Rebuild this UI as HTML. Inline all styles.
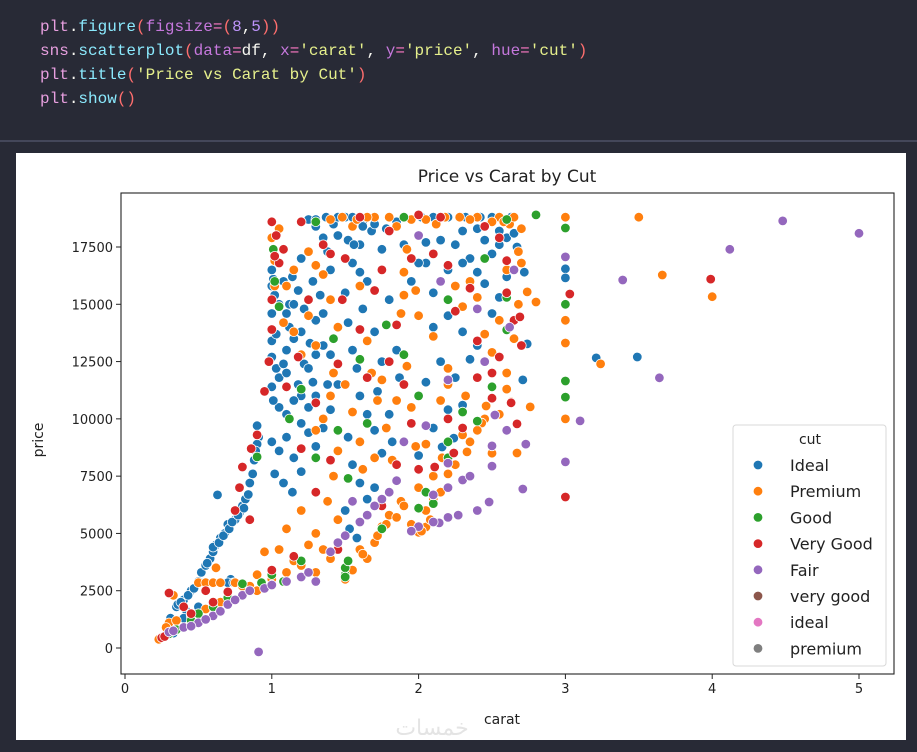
<!DOCTYPE html>
<html><head><meta charset="utf-8">
<style>
body{margin:0;width:917px;height:752px;background:#282a36;overflow:hidden;font-family:"Liberation Sans","DejaVu Sans",sans-serif;}
#code{position:absolute;left:40px;top:15px;font-family:"Liberation Mono",monospace;font-size:16px;line-height:24px;color:#f8f8f2;white-space:pre;}
.k{color:#e79fdf}.f{color:#8be9fd}.p{color:#ff6e6e}.a{color:#c678dd}.n{color:#bd93f9}.s{color:#e6f08c}.o{color:#ff79c6}
#sep{position:absolute;left:0;top:140px;width:917px;height:2px;background:#44475a}
#panel{position:absolute;left:16px;top:153px;width:890px;height:587px;background:#fff}
svg{position:absolute;left:0;top:0}
</style></head><body>
<div id="code"><span class="k">plt</span>.<span class="f">figure</span><span class="p">(</span><span class="a">figsize</span><span class="o">=</span><span class="p">(</span><span class="n">8</span>,<span class="n">5</span><span class="p">))</span>
<span class="k">sns</span>.<span class="f">scatterplot</span><span class="p">(</span><span class="a">data</span><span class="o">=</span>df, <span class="a">x</span><span class="o">=</span><span class="s">'carat'</span>, <span class="a">y</span><span class="o">=</span><span class="s">'price'</span>, <span class="a">hue</span><span class="o">=</span><span class="s">'cut'</span><span class="p">)</span>
<span class="k">plt</span>.<span class="f">title</span><span class="p">(</span><span class="s">'Price vs Carat by Cut'</span><span class="p">)</span>
<span class="k">plt</span>.<span class="f">show</span><span class="p">()</span></div>
<div id="sep"></div>
<div id="panel"></div>
<svg id="chart" width="917" height="752"></svg>
<script>
const cuts=["Ideal","Premium","Good","Very Good","Fair","very good","ideal","premium"];
const colors=["#1f77b4","#ff7f0e","#2ca02c","#d62728","#9467bd","#8c564b","#e377c2","#7f7f7f"];
const xTicks=[0,1,2,3,4,5];
const yTicks=[0,2500,5000,7500,10000,12500,15000,17500];
const idealPts=[0.23,400,0.3,600,0.32,700,0.31,1300,0.35,1800,0.4,2100,0.42,1600,0.45,2500,0.5,2900,0.52,3300,0.55,3600,0.58,3900,0.6,4200,0.62,4500,0.63,6680,0.65,4800,0.68,5000,0.7,5400,0.72,3000,0.75,5600,0.78,5900,0.8,6200,0.82,6500,0.85,7200,0.9,9700,0.91,9200,0.9,8900,0.7,2850,0.74,2850,0.54,2850,
1.0,14600,1.01,16100,1.02,15400,1.0,13400,1.03,12200,1.05,11800,1.08,12400,1.1,13000,1.12,14000,1.15,13500,1.1,12000,1.18,11500,1.2,11000,1.22,12400,1.05,10500,1.1,10200,1.15,10800,1.2,9800,1.25,10500,1.28,11600,1.3,12800,1.26,13300,1.22,14800,1.18,15600,1.14,16200,1.12,15000,1.3,14300,1.33,15400,1.35,14600,1.28,16000,1.2,17000,1.25,18700,1.3,18400,1.35,17900,1.38,17300,1.4,16500,1.42,18500,1.37,18800,1.45,18000,1.0,9000,1.05,8600,1.1,9200,1.15,8300,1.2,8700,1.25,9400,1.02,7600,1.08,7200,1.14,6800,1.2,7700,1.3,8800,1.35,9600,1.4,10400,1.38,11500,1.4,12800,1.35,13200,
1.5,18800,1.52,17800,1.55,16800,1.5,15500,1.52,14200,1.55,13000,1.6,17600,1.65,16000,1.62,14800,1.58,12200,1.6,11000,1.65,10200,1.7,9500,1.52,9200,1.55,8000,1.6,7200,1.65,6500,1.5,6000,1.53,5200,1.58,4800,1.7,13800,1.75,12500,1.72,11200,1.8,15200,1.85,13000,1.8,10200,1.75,8500,1.7,7000,1.82,9000,1.87,11800,1.68,18200,1.75,17400,
2.02,18800,2.1,18800,2.15,17800,2.05,16800,2.2,16500,2.25,17600,2.3,18200,2.35,17000,2.4,16400,2.45,17800,2.5,18800,2.55,17600,2.6,17900,2.65,18100,2.1,15500,2.2,14500,2.3,13800,2.15,12500,2.05,11600,2.25,11800,2.35,12600,2.4,13200,2.5,14600,2.55,15300,2.45,15900,2.2,10400,2.3,10600,2.1,9600,2.0,8400,2.16,8770,2.24,9160,2.74,13270,2.71,11700,3.0,16550,3.0,16150,3.21,12660,3.49,12700,2.67,17500,2.72,16400,
1.3,18700,1.45,18800,1.55,18800,1.62,18600,1.7,18500,1.78,18300,1.85,18600,2.2,18800,2.32,18800,2.42,18800,2.58,18700,2.63,18800,0.36,1900,0.38,2000,0.43,2300,0.47,2600,0.56,3700,0.6,4400,0.64,4600,0.67,4900,0.71,5200,0.73,5500,0.77,5800,0.81,6100,0.84,6700,0.87,7600,0.88,8200,0.89,8600,1.0,16500,1.0,15800,1.0,12700,1.0,11400,1.01,10800,1.03,13700,1.05,15000,1.08,16000,1.1,14600,1.15,15000,1.2,13800,1.25,12200,1.3,11000,1.45,11500,1.6,16400,1.62,18400,1.56,17600,1.9,17600,1.95,16000,2.0,16800,2.05,17700,2.1,14000,2.3,16800,2.4,18300,2.5,17200,2.6,16200,2.55,18200,0.28,600,0.33,650,0.4,1300,0.5,1800,0.45,1500];
const premiumPts=[0.23,380,0.26,500,0.3,1100,0.33,2300,0.5,2850,0.55,2850,0.6,2850,0.65,2850,0.62,3500,0.75,2850,0.8,2700,0.9,3200,0.95,4200,1.0,17900,1.02,16900,1.05,18300,1.1,15800,1.15,13800,1.2,12800,1.25,14500,1.3,16700,1.35,16300,1.4,15200,1.45,14000,1.4,11000,1.35,10000,1.3,9500,1.45,8600,1.42,7500,1.38,6400,1.3,5000,1.25,4500,1.35,4300,1.45,5600,1.2,6000,1.1,5200,1.05,4300,1.48,18800,1.55,18400,1.6,15800,1.65,13400,1.68,12000,1.72,10800,1.78,9600,1.82,8200,1.85,7300,1.88,6400,1.8,5800,1.75,5300,1.7,4600,1.65,3900,1.55,3400,1.9,16400,1.88,14600,1.92,12300,1.95,10500,1.98,8800,2.0,7000,2.0,5050,2.05,6000,2.1,7500,2.05,8900,2.15,10800,2.2,12200,2.3,14900,2.35,16000,2.4,15300,2.45,13700,2.5,12900,2.55,14300,2.6,16500,2.4,18800,2.28,18800,2.18,18800,2.55,18800,2.62,18500,2.7,18300,2.6,11300,2.45,10000,2.43,9820,2.46,10560,2.63,10740,2.76,10520,2.67,8510,2.33,8560,2.16,8300,2.1,6500,2.05,5280,2.5,8500,2.74,15540,2.8,15100,3.0,18800,3.0,14300,3.0,13310,3.0,10000,3.24,12400,3.5,18800,3.66,16280,4.0,15330,2.2,11500,2.3,9300,1.58,18700,1.7,18800,1.95,18700,1.92,17400,1.98,15600,
0.28,900,0.35,1200,0.45,1400,0.55,1700,0.65,2000,0.7,2300,0.85,2700,0.9,2500,1.0,3000,1.1,3300,1.15,3800,1.2,3600,1.3,3300,1.4,3900,1.5,3000,1.6,4300,1.62,4100,1.72,4900,1.78,5400,1.85,5700,1.9,6200,1.95,5400,2.02,5100,2.08,5600,2.15,6800,2.2,7600,2.25,8000,2.35,9000,2.4,9500,2.55,10200,2.6,12000,2.65,13500,2.68,15000,2.7,16800,1.65,18800,1.8,18800,1.85,18400,2.05,18700,2.12,18500,2.35,18700,2.5,18600,2.58,18600,2.65,18800,2.68,17300,1.15,16500,1.25,17300,1.4,18700,1.3,13200,1.08,14200,1.02,15800,1.42,12000,1.5,11500,1.55,10300,1.6,9000,1.62,7800,1.7,8300,1.75,11700,1.85,10800,1.9,15400,2.0,14500,2.1,13600,2.25,15800,2.32,11000];
const goodPts=[0.3,620,0.45,1200,0.6,1800,0.9,8340,1.01,17400,1.05,14900,1.12,10000,1.2,11300,1.3,8300,1.42,13500,1.5,3200,1.5,3500,1.52,7400,1.65,9800,1.78,14100,1.9,12800,2.0,11000,2.1,6300,2.3,10300,2.2,9000,2.6,18700,2.8,18900,3.0,18330,3.0,15000,2.6,13880,3.0,11650,3.0,10950,2.45,17000,2.05,6800,0.93,2850,1.08,2900,
0.35,800,0.5,1500,0.7,2200,0.8,2800,1.0,3200,1.2,3800,1.5,3100,1.52,3800,1.75,5200,2.0,6100,2.2,8300,2.4,9900,2.5,11400,2.6,15300,1.02,16000,1.3,18600,1.9,18800,2.2,15200,1.6,12600,1.45,9500];
const veryGoodPts=[0.25,450,0.3,2400,0.4,1800,0.55,2500,0.8,7900,0.9,9300,0.85,5600,0.95,11200,1.0,18600,1.03,18000,1.08,17400,1.0,13900,1.05,16800,1.1,11400,1.18,12700,1.25,15200,1.3,10700,1.35,17600,1.4,17200,1.45,12400,1.4,8200,1.3,6800,1.48,15200,1.6,13900,1.65,11800,1.7,15600,1.75,16500,1.85,14100,1.9,11500,1.95,9800,2.0,18900,2.1,17200,2.2,16700,2.25,14700,2.35,15700,2.4,13400,2.5,12000,2.55,17900,2.6,16900,2.65,14300,2.5,10900,2.3,9600,2.11,7900,2.24,8510,2.69,14450,2.63,10700,2.67,9780,3.03,15450,3.0,6590,3.99,16100,2.0,7800,1.8,12500,1.2,8700,
0.27,500,0.45,1500,0.6,2000,0.7,2450,0.75,6000,0.78,7000,0.86,8700,0.98,12500,1.0,15200,1.02,17100,1.2,18600,1.5,17000,1.6,18800,1.8,18200,1.95,17000,2.15,18800,2.45,18400,2.6,15500,2.7,13200,2.55,12700,2.4,11800,2.2,10000,1.85,8000,1.75,6200,1.45,4300,1.15,4000,1.0,3400];
const fairPts=[0.3,700,0.4,900,0.5,1100,0.6,1400,0.7,1900,0.8,2300,0.91,-170,0.95,2600,1.0,2750,1.2,3100,1.3,2900,1.5,4900,1.6,5500,1.7,6200,1.8,6800,2.0,5300,2.1,6680,2.14,5460,2.2,5700,2.27,5800,2.3,7330,2.2,7000,2.2,8070,2.5,8820,2.5,7940,2.48,6370,2.52,10170,2.71,6940,2.73,8900,3.0,8120,3.1,9910,3.64,11790,3.39,16060,3.0,17070,4.12,17400,4.48,18640,5.0,18100,2.0,18000,2.2,11700,2.4,14800,1.9,9000,2.05,9700,1.55,6400,
0.33,750,0.45,950,0.55,1250,0.65,1600,0.75,2100,0.85,2500,1.1,2900,1.25,3300,1.4,4200,1.45,4600,1.65,5800,1.75,6500,1.85,7300,1.95,5100,2.1,5500,2.4,6000,2.35,7500,2.6,9500,2.45,12500,2.62,14000,2.65,16500,2.15,16000];
const seriesPts=[idealPts,premiumPts,goodPts,veryGoodPts,fairPts];

const NS="http://www.w3.org/2000/svg";
const svg=document.getElementById('chart');
const L=121,T=193,R=894,B=674;
function X(c){return 125+(859-125)*c/5;}
function Y(p){return 648-(648-247)*p/17500;}
function mk(tag,attrs,parent){const e=document.createElementNS(NS,tag);for(const k in attrs)e.setAttribute(k,attrs[k]);(parent||svg).appendChild(e);return e;}

const title=mk('text',{x:507,y:182,'text-anchor':'middle','font-size':'17','fill':'#222','font-family':'DejaVu Sans, sans-serif'});
title.textContent='Price vs Carat by Cut';



const pts=mk('g',{});


seriesPts.forEach((arr,si)=>{
  for(let i=0;i<arr.length;i+=2){
    const c=mk('circle',{cx:X(arr[i]).toFixed(1),cy:Y(arr[i+1]).toFixed(1),r:4.8,fill:colors[si],stroke:'#fff','stroke-width':0.8},pts);
    
    
  }
});

const frame=mk('rect',{x:L,y:T,width:R-L,height:B-T,fill:'none',stroke:'#222','stroke-width':1.1});



xTicks.forEach(v=>{
  const x=X(v);
  const t=mk('line',{x1:x,x2:x,y1:B,y2:B+5,stroke:'#222'});
  
  
  const l=mk('text',{x:x,y:B+19,'text-anchor':'middle','font-size':'13','fill':'#222','font-family':'DejaVu Sans, sans-serif'});
  l.textContent=v;
  
  
});
yTicks.forEach(v=>{
  const y=Y(v);
  const t=mk('line',{x1:L-5,x2:L,y1:y,y2:y,stroke:'#222'});
  
  
  const l=mk('text',{x:L-8,y:y+5,'text-anchor':'end','font-size':'13','fill':'#222','font-family':'DejaVu Sans, sans-serif'});
  l.textContent=v;
  
  
});
const xl=mk('text',{x:502,y:724,'text-anchor':'middle','font-size':'14','fill':'#222','font-family':'DejaVu Sans, sans-serif'});
xl.textContent='carat';


const yl=mk('text',{x:0,y:0,'text-anchor':'middle','font-size':'14','fill':'#222','font-family':'DejaVu Sans, sans-serif',transform:'translate(43,440) rotate(-90)'});
yl.textContent='price';



const wm=mk('text',{x:432,y:735,'text-anchor':'middle','font-size':'22','fill':'#e4e4e4','font-family':'Noto Sans CJK SC, DejaVu Sans, sans-serif'});
wm.textContent='خمسات';



const lg=mk('g',{});


mk('rect',{x:733,y:425,width:153,height:241,rx:3,fill:'#fff','fill-opacity':0.85,stroke:'#d8d8d8'},lg);
const lt=mk('text',{x:810,y:444,'text-anchor':'middle','font-size':'14','fill':'#222','font-family':'DejaVu Sans, sans-serif'},lg);
lt.textContent='cut';


cuts.forEach((c,i)=>{
  const y=465+i*26.2;
  const e=mk('g',{},lg);
  
  
  mk('circle',{cx:758,cy:y,r:4.8,fill:colors[i],stroke:'#fff','stroke-width':0.8},e);
  const t=mk('text',{x:790,y:y+6,'font-size':'16','fill':'#222','font-family':'DejaVu Sans, sans-serif'},e);
  t.textContent=c;
});
</script>
</body></html>
